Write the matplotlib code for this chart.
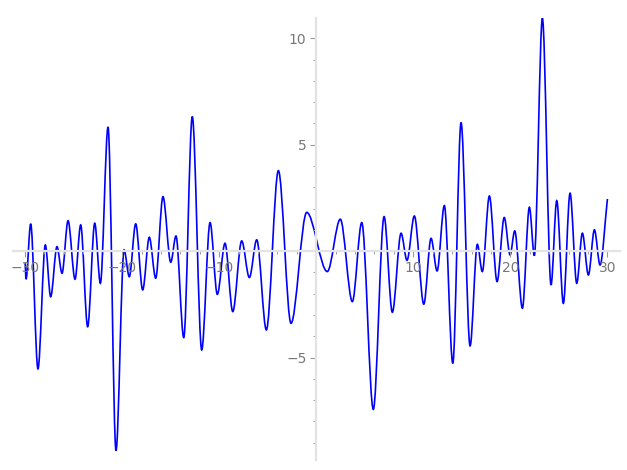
import matplotlib
matplotlib.use("Agg")
import matplotlib.pyplot as plt
from matplotlib.path import Path
from matplotlib.patches import PathPatch
from matplotlib.ticker import MultipleLocator, FuncFormatter

# turning points of the curve (start, extrema, end)
xs = [-30.0, -29.9, -29.42, -28.67, -27.91, -27.36, -26.71, -26.19, -25.57, -24.85,
      -24.27, -23.55, -22.82, -22.24, -21.45, -20.63, -19.8, -19.26, -18.6, -17.88,
      -17.2, -16.54, -15.79, -14.99, -14.45, -13.65, -12.77, -11.8, -10.94, -10.19,
      -9.4, -8.6, -7.68, -6.89, -6.13, -5.14, -3.9, -2.6, -0.98, 1.14,
      2.48, 3.72, 4.69, 5.88, 6.99, 7.84, 8.74, 9.35, 10.11, 11.08,
      11.83, 12.45, 13.2, 14.07, 14.92, 15.85, 16.6, 17.11, 17.84, 18.63,
      19.37, 19.97, 20.45, 21.24, 21.96, 22.47, 23.3, 24.19, 24.78, 25.46,
      26.15, 26.84, 27.42, 28.04, 28.66, 29.24, 30.0]
ys = [-0.57, -1.32, 1.28, -5.53, 0.29, -2.14, 0.21, -1.04, 1.43, -1.32,
      1.23, -3.55, 1.31, -1.51, 5.83, -9.37, 0.06, -1.2, 1.28, -1.82,
      0.65, -1.27, 2.56, -0.52, 0.71, -4.06, 6.32, -4.64, 1.34, -2.03,
      0.37, -2.84, 0.48, -1.24, 0.53, -3.7, 3.78, -3.39, 1.82, -0.96,
      1.5, -2.37, 1.34, -7.43, 1.62, -2.87, 0.84, -0.43, 1.65, -2.49,
      0.6, -0.93, 2.14, -5.27, 6.04, -4.45, 0.32, -0.96, 2.59, -1.43,
      1.58, -0.18, 0.95, -2.68, 2.06, -0.21, 10.94, -1.59, 2.37, -2.45,
      2.72, -1.51, 0.84, -1.12, 1.0, -0.65, 2.45]

fig = plt.figure(figsize=(6.27, 4.70), dpi=100)
ax = fig.add_axes([0.0203, 0.0213, 0.9686, 0.9404])

# smooth curve: cubic bezier between turning points, flat tangent at extrema
verts = [(xs[0], ys[0])]
codes = [Path.MOVETO]
n = len(xs)
for i in range(n - 1):
    x0, y0, x1, y1 = xs[i], ys[i], xs[i + 1], ys[i + 1]
    d = (x1 - x0) / 3
    c2 = (x1 - d, y1)
    if i == n - 2:
        c2 = (x1 - d, y1 - (y1 - y0) / 3)
    verts += [(x0 + d, y0), c2, (x1, y1)]
    codes += [Path.CURVE4] * 3
ax.add_patch(PathPatch(Path(verts, codes), facecolor="none", edgecolor="blue", lw=1.2))

ax.set_xlim(-31.27, 31.3)
ax.set_ylim(-9.81, 10.95)

for s in ["top", "right"]:
    ax.spines[s].set_visible(False)
for s in ["left", "bottom"]:
    ax.spines[s].set_position(("data", 0))
    ax.spines[s].set_color("#e3e3e3")
    ax.spines[s].set_linewidth(1.6)

ax.xaxis.set_major_locator(MultipleLocator(10))
ax.xaxis.set_minor_locator(MultipleLocator(2))
ax.yaxis.set_major_locator(MultipleLocator(5))
ax.yaxis.set_minor_locator(MultipleLocator(1))
nozero = FuncFormatter(lambda v, p: "" if abs(v) < 1e-9 else f"{v:.0f}".replace("-", "\u2212"))
ax.xaxis.set_major_formatter(nozero)
ax.yaxis.set_major_formatter(nozero)
ax.tick_params(which="major", length=4, width=0.8, color="#999999", labelcolor="#777777",
               labelsize=10, pad=3)
ax.tick_params(which="minor", length=2.5, width=0.7, color="#999999")

fig.savefig("out.png", dpi=100)
